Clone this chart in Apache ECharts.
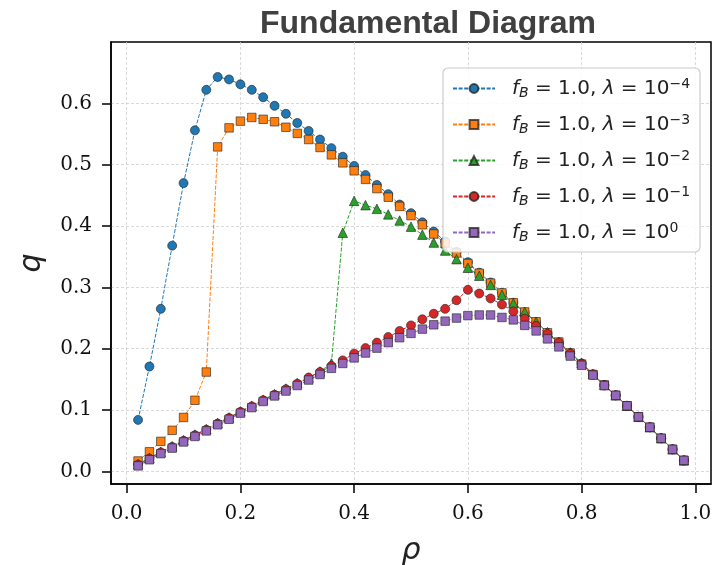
<!DOCTYPE html>
<html>
<head>
<meta charset="utf-8">
<script src="https://cdn.jsdelivr.net/npm/echarts@6/dist/echarts.min.js"></script>
<style>html,body{margin:0;padding:0;background:#fff}#c{width:720px;height:565px}</style>
</head>
<body>
<div id="c"></div>
<script>
const rho = [0.02,0.04,0.06,0.08,0.10,0.12,0.14,0.16,0.18,0.20,0.22,0.24,0.26,0.28,0.30,0.32,0.34,0.36,0.38,0.40,0.42,0.44,0.46,0.48,0.50,0.52,0.54,0.56,0.58,0.60,0.62,0.64,0.66,0.68,0.70,0.72,0.74,0.76,0.78,0.80,0.82,0.84,0.86,0.88,0.90,0.92,0.94,0.96,0.98];
const qLam4 = [0.084,0.171,0.265,0.368,0.470,0.556,0.622,0.643,0.639,0.631,0.622,0.610,0.596,0.583,0.568,0.555,0.541,0.527,0.513,0.498,0.483,0.467,0.452,0.435,0.421,0.406,0.391,0.375,0.358,0.341,0.324,0.308,0.291,0.275,0.259,0.243,0.226,0.210,0.193,0.176,0.158,0.141,0.124,0.107,0.089,0.072,0.054,0.036,0.018];
const qLam3 = [0.017,0.032,0.049,0.067,0.088,0.116,0.162,0.529,0.560,0.571,0.577,0.574,0.570,0.561,0.551,0.541,0.528,0.516,0.503,0.490,0.476,0.461,0.447,0.432,0.417,0.402,0.387,0.372,0.356,0.339,0.323,0.307,0.291,0.275,0.260,0.244,0.226,0.211,0.193,0.175,0.158,0.141,0.124,0.107,0.089,0.072,0.054,0.036,0.018];
const qLam2 = [0.012,0.022,0.032,0.041,0.051,0.060,0.069,0.079,0.088,0.098,0.107,0.117,0.126,0.135,0.144,0.153,0.163,0.176,0.389,0.441,0.434,0.428,0.419,0.409,0.399,0.386,0.373,0.360,0.346,0.332,0.319,0.304,0.288,0.274,0.260,0.244,0.227,0.211,0.194,0.177,0.159,0.141,0.124,0.107,0.089,0.072,0.054,0.036,0.018];
const qLam1 = [0.011,0.021,0.031,0.040,0.050,0.059,0.068,0.078,0.087,0.097,0.106,0.116,0.125,0.134,0.143,0.153,0.162,0.172,0.181,0.192,0.201,0.210,0.219,0.229,0.238,0.248,0.257,0.265,0.279,0.296,0.290,0.282,0.272,0.261,0.249,0.237,0.224,0.210,0.192,0.175,0.158,0.140,0.124,0.107,0.089,0.072,0.054,0.036,0.018];
const qLam0 = [0.009,0.019,0.029,0.038,0.048,0.057,0.066,0.076,0.085,0.095,0.104,0.114,0.123,0.131,0.140,0.149,0.158,0.168,0.176,0.185,0.193,0.201,0.210,0.218,0.225,0.232,0.239,0.245,0.250,0.254,0.255,0.255,0.251,0.247,0.238,0.229,0.216,0.203,0.188,0.173,0.157,0.140,0.124,0.107,0.089,0.072,0.054,0.036,0.018];
const xTicks = [0.0,0.2,0.4,0.6,0.8,1.0];
const yTicks = [0.0,0.1,0.2,0.3,0.4,0.5,0.6];
const exps = ['\u22124','\u22123','\u22122','\u22121','0'];
const seriesQ = [qLam4,qLam3,qLam2,qLam1,qLam0];
const colors = ['#1f77b4','#ff7f0e','#2ca02c','#d62728','#9467bd'];
const symbols = ['circle','rect','triangle','circle','rect'];
const sizes = [9,8.5,9.5,9,8.5];

const names = exps.map(e => 'fB=1.0,lambda=10^' + e);
const chart = echarts.init(document.getElementById('c'));
const series = seriesQ.map((q, k) => ({
  name: names[k],
  type: 'line',
  data: rho.map((r, i) => [r, q[i]]),
  symbol: symbols[k],
  symbolSize: sizes[k],
  showSymbol: true,
  animation: false,
  lineStyle: {color: colors[k], width: 1, type: [4, 1.6]},
  itemStyle: {color: colors[k], borderColor: 'rgba(30,30,30,0.75)', borderWidth: 0.8},
  emphasis: {disabled: true}
}));

const mathFont = 'DejaVu Sans';
chart.setOption({
  animation: false,
  title: {
    text: 'Fundamental Diagram',
    left: 255, top: 3,
    textStyle: {fontFamily: 'Liberation Sans', fontWeight: 'bold', fontSize: 32, color: '#404040'}
  },
  grid: {left: 111, right: 9, top: 42, bottom: 81, containLabel: false, outerBoundsMode: 'none', show: true, borderColor: '#000', borderWidth: 1.5, backgroundColor: 'transparent'},
  legend: {
    left: 443, top: 68,
    orient: 'vertical',
    itemWidth: 42, itemHeight: 11,
    itemGap: 13,
    padding: [9, 10, 8, 9],
    backgroundColor: 'rgba(255,255,255,0.85)',
    borderColor: '#cccccc', borderWidth: 1.2, borderRadius: 5,
    data: names,
    formatter: function (n) {
      const e = exps[names.indexOf(n)];
      return '{i|f}{sub|B}{n| = 1.0, }{i|\u03bb}{n| = 10}{sup|' + e + '}';
    },
    textStyle: {
      padding: [0, 0, 0, 12],
      fontFamily: mathFont,
      fontSize: 20, color: '#222',
      rich: {
        i: {fontFamily: mathFont, fontStyle: 'italic', fontSize: 20, lineHeight: 23, color: '#222'},
        n: {fontFamily: mathFont, fontSize: 20, lineHeight: 23, color: '#222'},
        sub: {fontFamily: mathFont, fontStyle: 'italic', fontSize: 14, lineHeight: 13, verticalAlign: 'bottom', color: '#222'},
        sup: {fontFamily: mathFont, fontSize: 14, lineHeight: 14, verticalAlign: 'top', color: '#222'}
      }
    }
  },
  xAxis: {
    type: 'value', min: -0.0276, max: 1.0276,
    name: '\u03c1', nameLocation: 'middle', nameGap: 52,
    nameTextStyle: {fontFamily: mathFont, fontStyle: 'italic', fontSize: 30, color: '#222'},
    axisLine: {show: true, onZero: false, lineStyle: {color: '#000', width: 1.5}},
    axisTick: {show: true, length: 9, inside: false, customValues: xTicks, lineStyle: {color: '#000', width: 1.5}},
    axisLabel: {customValues: xTicks, margin: 20, fontFamily: 'DejaVu Serif', fontSize: 20, color: '#111', formatter: v => v.toFixed(1)},
    splitLine: {show: true, lineStyle: {color: '#cfcfcf', width: 0.8, type: [3, 2]}}
  },
  yAxis: {
    type: 'value', min: -0.0205, max: 0.70,
    name: 'q', nameLocation: 'middle', nameGap: 64, nameRotate: 90,
    nameTextStyle: {fontFamily: mathFont, fontStyle: 'italic', fontSize: 30, color: '#222'},
    axisLine: {show: true, onZero: false, lineStyle: {color: '#000', width: 1.5}},
    axisTick: {show: true, length: 9, inside: false, customValues: yTicks, lineStyle: {color: '#000', width: 1.5}},
    axisLabel: {customValues: yTicks, margin: 19, padding: [6, 0, 0, 0], fontFamily: 'DejaVu Serif', fontSize: 20, color: '#111', formatter: v => v.toFixed(1)},
    splitLine: {show: true, lineStyle: {color: '#cfcfcf', width: 0.8, type: [3, 2]}}
  },
  series: series
});
</script>
</body>
</html>
